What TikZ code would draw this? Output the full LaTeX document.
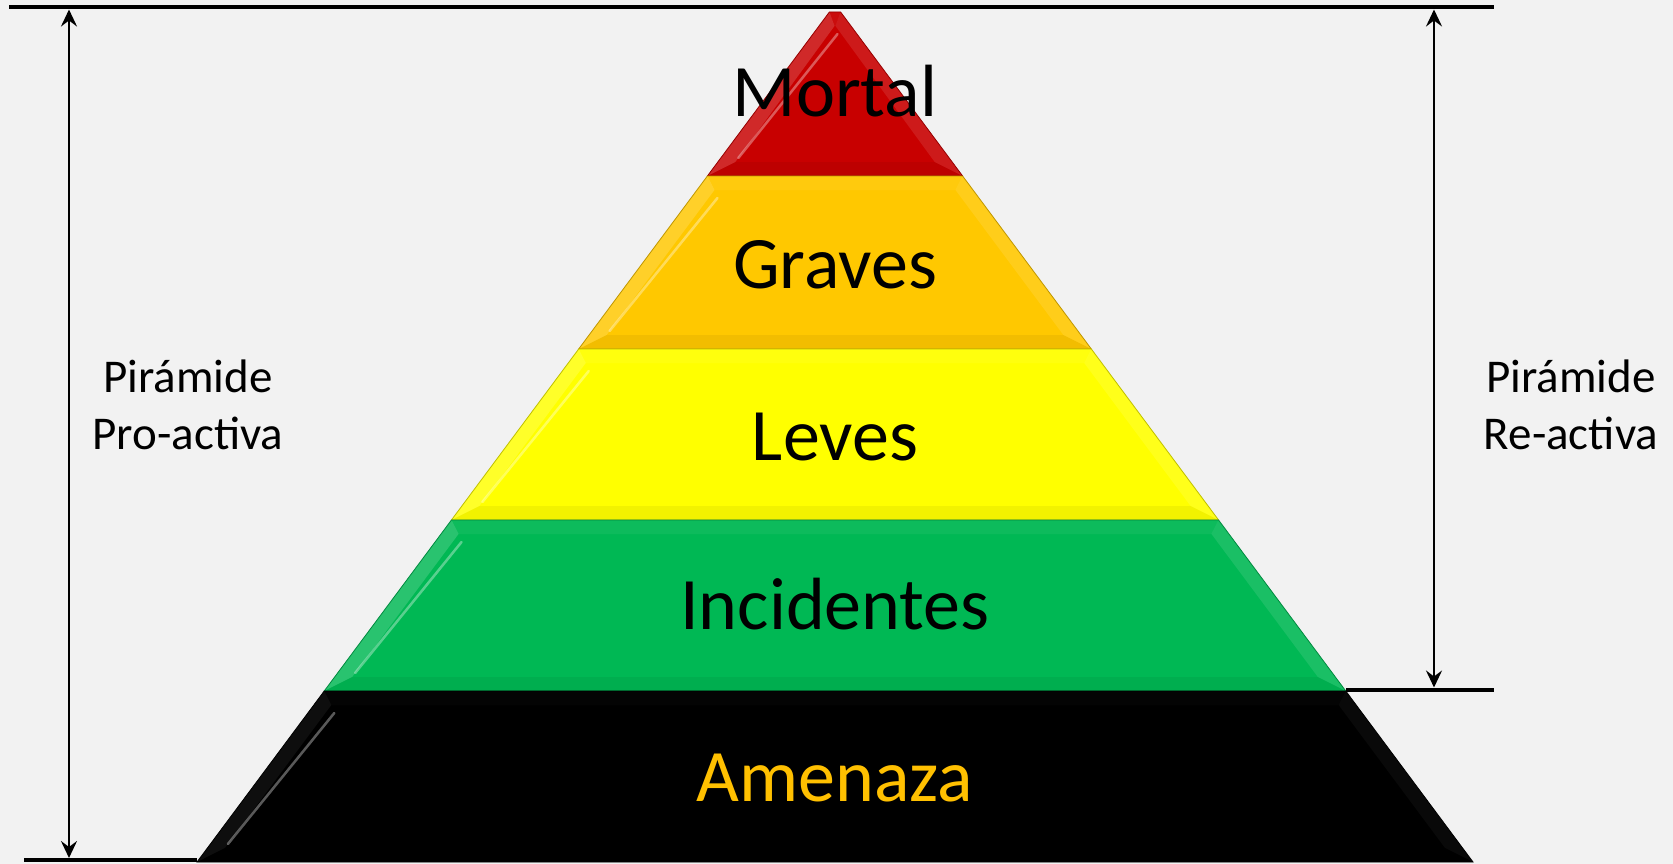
\documentclass[tikz,border=0pt]{standalone}
\usepackage{fontspec}
\setmainfont{Carlito}
\usetikzlibrary{arrows.meta}
\definecolor{bg}{HTML}{F2F2F2}
\definecolor{cred}{HTML}{C80000}
\definecolor{cgold}{HTML}{FFC800}
\definecolor{cyel}{HTML}{FFFF00}
\definecolor{cgreen}{HTML}{00B854}
\definecolor{camb}{HTML}{FFC000}
\begin{document}
\begin{tikzpicture}[x=1pt,y=-1pt,
  declare function={hw(\q)=638-0.744*(862-\q);},
  lbl/.style={anchor=base,font=\fontsize{74}{80}\selectfont,inner sep=0pt},
  side/.style={align=center,font=\fontsize{47}{57}\selectfont,inner sep=0pt},
  rule/.style={line width=4.5pt},
  dimarrow/.style={line width=2.5pt,{Stealth[length=17pt,width=16pt,inset=6pt]}-{Stealth[length=17pt,width=16pt,inset=6pt]}}
]
\useasboundingbox (0,0) rectangle (1673,864);
\fill[bg] (0,0) rectangle (1673,864);

% pyramid bands
\foreach \ya/\yb/\col/\k in {12/176/cred/1, 176/349/cgold/1, 349/520/cyel/1, 520/691/cgreen/1, 691/862/black/0.35} {
  \pgfmathsetmacro\xal{835-hw(\ya)}
  \pgfmathsetmacro\xar{835+hw(\ya)}
  \pgfmathsetmacro\xbl{835-hw(\yb)}
  \pgfmathsetmacro\xbr{835+hw(\yb)}
  \pgfmathsetmacro\yia{\ya+14}
  \pgfmathsetmacro\yib{\yb-14}
  \pgfmathsetmacro\xial{835-max(hw(\yia)-17.5,0.5)}
  \pgfmathsetmacro\xiar{835+max(hw(\yia)-17.5,0.5)}
  \pgfmathsetmacro\xibl{835-max(hw(\yib)-17.5,0.5)}
  \pgfmathsetmacro\xibr{835+max(hw(\yib)-17.5,0.5)}
  \fill[\col] (\xal,\ya) -- (\xar,\ya) -- (\xbr,\yb) -- (\xbl,\yb) -- cycle;
  \fill[white,opacity=0.05*\k] (\xal,\ya) -- (\xial,\yia) -- (\xiar,\yia) -- (\xar,\ya) -- cycle;
  \fill[white,opacity=0.16*\k] (\xal,\ya) -- (\xial,\yia) -- (\xibl,\yib) -- (\xbl,\yb) -- cycle;
  \fill[white,opacity=0.10*\k] (\xar,\ya) -- (\xiar,\yia) -- (\xibr,\yib) -- (\xbr,\yb) -- cycle;
  \fill[black,opacity=0.05] (\xbl,\yb) -- (\xibl,\yib) -- (\xibr,\yib) -- (\xbr,\yb) -- cycle;
  \draw[white,opacity=0.35,line width=2.5pt,line cap=round]
    ({\xial+3},{\yia+8}) -- ({\xibl+3},{\yib-4});
  \draw[\col!75!black,line width=0.8pt] (\xal,\ya) -- (\xar,\ya) -- (\xbr,\yb) -- (\xbl,\yb) -- cycle;
}

% band labels
\node[lbl] (mortal) at (835,117) {Mortal};
\node[lbl] (graves) at (835,288) {Graves};
\node[lbl] (leves) at (835,460) {Leves};
\node[lbl] (incid) at (835,629) {Incidentes};
\node[lbl,text=camb] (amen) at (835,801) {Amenaza};

% side labels
\node[side] (pl) at (188,405) {Pirámide\\Pro-activa};
\node[side] (pr) at (1571,405) {Pirámide\\Re-activa};

% reference lines
\coordinate (tl) at (9,7);
\coordinate (tr) at (1494,7);
\draw[rule] (tl) -- (tr);
\coordinate (bl) at (24,860);
\coordinate (bp) at (197,860);
\draw[rule] (bl) -- (bp);
\coordinate (gr) at (1346,690);
\coordinate (grr) at (1494,690);
\draw[line width=3.5pt] (gr) -- (grr);

% dimension arrows
\coordinate (la) at (69,9.5);
\coordinate (lb) at (69,858);
\draw[dimarrow] (la) -- (lb);
\coordinate (ra) at (1434,9.5);
\coordinate (rb) at (1434,687.5);
\draw[dimarrow] (ra) -- (rb);
\end{tikzpicture}
\end{document}
